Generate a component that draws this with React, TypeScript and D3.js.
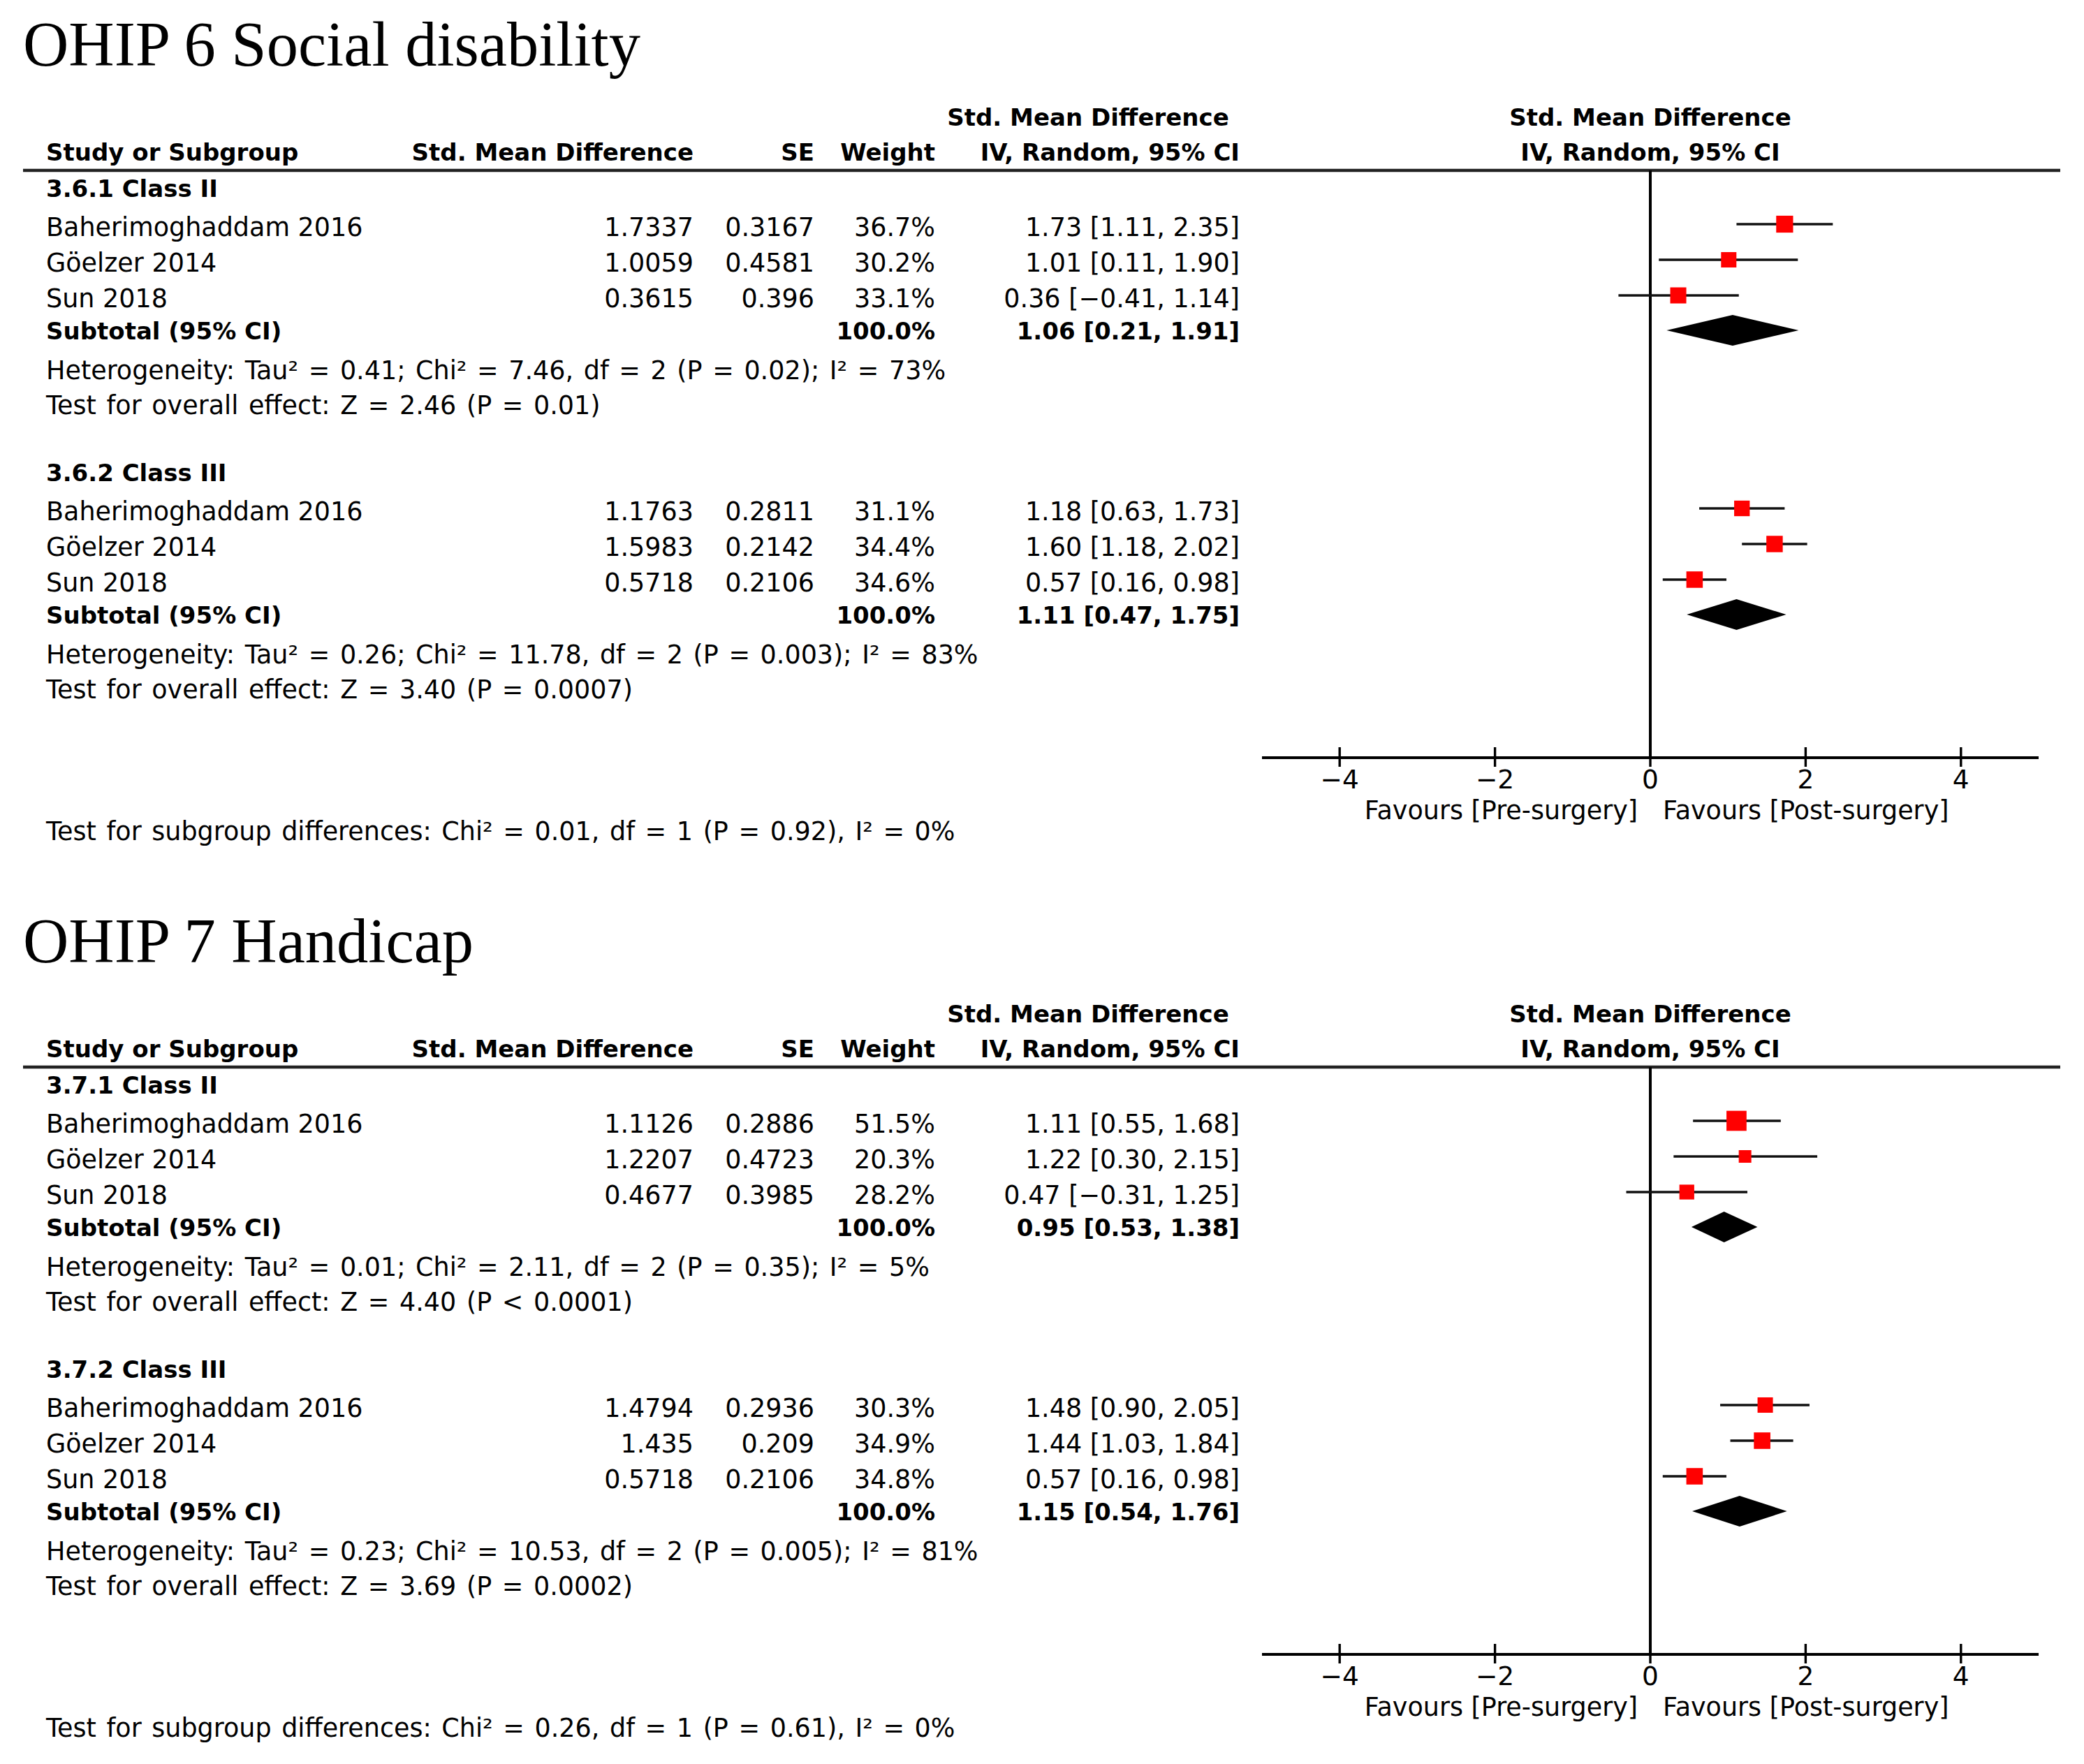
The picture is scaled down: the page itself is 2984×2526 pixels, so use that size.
import React from "react"
import * as d3 from "d3"

const WIDTH = 2984
const HEIGHT = 2526

interface StudyRow {
  smd: number
  se: number
  weight: number
  est: number
  lo: number
  hi: number
}

interface Pooled {
  est: number
  lo: number
  hi: number
}

const studyNames = ["Baherimoghaddam 2016", "Göelzer 2014", "Sun 2018"]
const panelTitles = ["OHIP 6 Social disability", "OHIP 7 Handicap"]
const groupLabels = [
  ["3.6.1 Class II", "3.6.2 Class III"],
  ["3.7.1 Class II", "3.7.2 Class III"],
]

// OHIP 6 Social disability
const ohip6ClassII: StudyRow[] = [
  { smd: 1.7337, se: 0.3167, weight: 36.7, est: 1.73, lo: 1.11, hi: 2.35 },
  { smd: 1.0059, se: 0.4581, weight: 30.2, est: 1.01, lo: 0.11, hi: 1.9 },
  { smd: 0.3615, se: 0.396, weight: 33.1, est: 0.36, lo: -0.41, hi: 1.14 },
]
const ohip6ClassIII: StudyRow[] = [
  { smd: 1.1763, se: 0.2811, weight: 31.1, est: 1.18, lo: 0.63, hi: 1.73 },
  { smd: 1.5983, se: 0.2142, weight: 34.4, est: 1.6, lo: 1.18, hi: 2.02 },
  { smd: 0.5718, se: 0.2106, weight: 34.6, est: 0.57, lo: 0.16, hi: 0.98 },
]
const ohip6Subtotals: Pooled[] = [
  { est: 1.06, lo: 0.21, hi: 1.91 },
  { est: 1.11, lo: 0.47, hi: 1.75 },
]
const ohip6Heterogeneity = [
  "Heterogeneity: Tau² = 0.41; Chi² = 7.46, df = 2 (P = 0.02); I² = 73%",
  "Heterogeneity: Tau² = 0.26; Chi² = 11.78, df = 2 (P = 0.003); I² = 83%",
]
const ohip6Overall = ["Test for overall effect: Z = 2.46 (P = 0.01)", "Test for overall effect: Z = 3.40 (P = 0.0007)"]
const ohip6SubgroupTest = "Test for subgroup differences: Chi² = 0.01, df = 1 (P = 0.92), I² = 0%"

// OHIP 7 Handicap
const ohip7ClassII: StudyRow[] = [
  { smd: 1.1126, se: 0.2886, weight: 51.5, est: 1.11, lo: 0.55, hi: 1.68 },
  { smd: 1.2207, se: 0.4723, weight: 20.3, est: 1.22, lo: 0.3, hi: 2.15 },
  { smd: 0.4677, se: 0.3985, weight: 28.2, est: 0.47, lo: -0.31, hi: 1.25 },
]
const ohip7ClassIII: StudyRow[] = [
  { smd: 1.4794, se: 0.2936, weight: 30.3, est: 1.48, lo: 0.9, hi: 2.05 },
  { smd: 1.435, se: 0.209, weight: 34.9, est: 1.44, lo: 1.03, hi: 1.84 },
  { smd: 0.5718, se: 0.2106, weight: 34.8, est: 0.57, lo: 0.16, hi: 0.98 },
]
const ohip7Subtotals: Pooled[] = [
  { est: 0.95, lo: 0.53, hi: 1.38 },
  { est: 1.15, lo: 0.54, hi: 1.76 },
]
const ohip7Heterogeneity = [
  "Heterogeneity: Tau² = 0.01; Chi² = 2.11, df = 2 (P = 0.35); I² = 5%",
  "Heterogeneity: Tau² = 0.23; Chi² = 10.53, df = 2 (P = 0.005); I² = 81%",
]
const ohip7Overall = ["Test for overall effect: Z = 4.40 (P < 0.0001)", "Test for overall effect: Z = 3.69 (P = 0.0002)"]
const ohip7SubgroupTest = "Test for subgroup differences: Chi² = 0.26, df = 1 (P = 0.61), I² = 0%"

const axisDomain: [number, number] = [-5, 5]
const favoursLeft = "Favours [Pre-surgery]"
const favoursRight = "Favours [Post-surgery]"

const panels = [
  {
    title: panelTitles[0],
    groups: [ohip6ClassII, ohip6ClassIII],
    labels: groupLabels[0],
    subtotals: ohip6Subtotals,
    heterogeneity: ohip6Heterogeneity,
    overall: ohip6Overall,
    subgroupTest: ohip6SubgroupTest,
  },
  {
    title: panelTitles[1],
    groups: [ohip7ClassII, ohip7ClassIII],
    labels: groupLabels[1],
    subtotals: ohip7Subtotals,
    heterogeneity: ohip7Heterogeneity,
    overall: ohip7Overall,
    subgroupTest: ohip7SubgroupTest,
  },
]

const SANS = "'DejaVu Sans', Verdana, sans-serif"
const SERIF = "'Liberation Serif', 'Times New Roman', serif"
const REG = 36.5
const BOLD = 34
const STAT_WORD_SPACING = 3

const PANEL_OFFSET = 1284
const layout = {
  titleY: 94,
  topHeadY: 180,
  headY: 230,
  ruleY: 244,
  groupY: [282, 689],
  axisY: 1085,
  tickLabelY: 1129,
  favoursY: 1173,
  subgroupY: 1203,
}
const cols = {
  textX: 66,
  smdRight: 993,
  seRight: 1166,
  weightRight: 1339,
  ciRight: 1775,
  ciHeadCenter: 1558,
  ruleLeft: 33,
  ruleRight: 2950,
}

const fmt = (v: number) => v.toFixed(2).replace("-", "−")
const ciText = (d: Pooled) => `${fmt(d.est)} [${fmt(d.lo)}, ${fmt(d.hi)}]`

const xScale = d3.scaleLinear().domain(axisDomain).range([1807, 2919])
const sizeScale = d3.scaleSqrt().domain([0, 100]).range([0, 40])

const Panel: React.FC<{ p: (typeof panels)[number]; offset: number }> = ({ p, offset }) => {
  const x0 = xScale(0)
  const ticks = xScale.ticks(5)
  const tickFmt = xScale.tickFormat(5, "d")
  return (
    <g transform={`translate(0,${offset})`} fill="#000">
      <text x={33} y={layout.titleY} fontFamily={SERIF} fontSize={90.5}>
        {p.title}
      </text>

      {/* column headers */}
      <g fontFamily={SANS} fontSize={BOLD} fontWeight="bold">
        <text x={cols.ciHeadCenter} y={layout.topHeadY} textAnchor="middle">
          Std. Mean Difference
        </text>
        <text x={x0} y={layout.topHeadY} textAnchor="middle">
          Std. Mean Difference
        </text>
        <text x={cols.textX} y={layout.headY}>
          Study or Subgroup
        </text>
        <text x={cols.smdRight} y={layout.headY} textAnchor="end">
          Std. Mean Difference
        </text>
        <text x={cols.seRight} y={layout.headY} textAnchor="end">
          SE
        </text>
        <text x={cols.weightRight} y={layout.headY} textAnchor="end">
          Weight
        </text>
        <text x={cols.ciRight} y={layout.headY} textAnchor="end">
          IV, Random, 95% CI
        </text>
        <text x={x0} y={layout.headY} textAnchor="middle">
          IV, Random, 95% CI
        </text>
      </g>
      <line x1={cols.ruleLeft} x2={cols.ruleRight} y1={layout.ruleY} y2={layout.ruleY} stroke="#222" strokeWidth={4.5} />

      {/* line of no effect */}
      <line x1={x0} x2={x0} y1={layout.ruleY} y2={layout.axisY} stroke="#000" strokeWidth={4} />

      {p.groups.map((rows, gi) => {
        const gy = layout.groupY[gi]
        const studyY = (i: number) => gy + 56 + i * 51
        const subY = gy + 204
        const sub = p.subtotals[gi]
        return (
          <g key={gi}>
            <text x={cols.textX} y={gy} fontFamily={SANS} fontSize={BOLD} fontWeight="bold">
              {p.labels[gi]}
            </text>
            {rows.map((r, i) => {
              const y = studyY(i)
              const s = sizeScale(r.weight)
              return (
                <g key={i} fontFamily={SANS} fontSize={REG}>
                  <text x={cols.textX} y={y}>
                    {studyNames[i]}
                  </text>
                  <text x={cols.smdRight} y={y} textAnchor="end">
                    {String(r.smd)}
                  </text>
                  <text x={cols.seRight} y={y} textAnchor="end">
                    {String(r.se)}
                  </text>
                  <text x={cols.weightRight} y={y} textAnchor="end">
                    {r.weight.toFixed(1)}%
                  </text>
                  <text x={cols.ciRight} y={y} textAnchor="end">
                    {ciText(r)}
                  </text>
                  <line
                    x1={xScale(r.lo)}
                    x2={xScale(r.hi)}
                    y1={y - 17}
                    y2={y - 17}
                    stroke="#111"
                    strokeWidth={3.4}
                  />
                  <rect x={xScale(r.est) - s / 2} y={y - 17 - s / 2} width={s} height={s} fill="#ff0000" />
                </g>
              )
            })}
            <g fontFamily={SANS} fontSize={BOLD} fontWeight="bold">
              <text x={cols.textX} y={subY}>
                Subtotal (95% CI)
              </text>
              <text x={cols.weightRight} y={subY} textAnchor="end">
                100.0%
              </text>
              <text x={cols.ciRight} y={subY} textAnchor="end">
                {ciText(sub)}
              </text>
            </g>
            <path
              d={`M${xScale(sub.lo)},${subY - 13} L${xScale(sub.est)},${subY - 35} L${xScale(sub.hi)},${subY - 13} L${xScale(sub.est)},${subY + 9} Z`}
              fill="#000"
            />
            <g fontFamily={SANS} fontSize={REG} wordSpacing={STAT_WORD_SPACING}>
              <text x={cols.textX} y={gy + 261}>
                {p.heterogeneity[gi]}
              </text>
              <text x={cols.textX} y={gy + 311}>
                {p.overall[gi]}
              </text>
            </g>
          </g>
        )
      })}

      {/* axis */}
      <g>
        <line
          x1={xScale(axisDomain[0])}
          x2={xScale(axisDomain[1])}
          y1={layout.axisY}
          y2={layout.axisY}
          stroke="#000"
          strokeWidth={4}
        />
        {ticks.map((t) => (
          <g key={t}>
            <line x1={xScale(t)} x2={xScale(t)} y1={layout.axisY - 15} y2={layout.axisY + 13} stroke="#000" strokeWidth={3.4} />
            <text x={xScale(t)} y={layout.tickLabelY} textAnchor="middle" fontFamily={SANS} fontSize={REG + 1}>
              {tickFmt(t)}
            </text>
          </g>
        ))}
        <text x={x0 - 18} y={layout.favoursY} textAnchor="end" fontFamily={SANS} fontSize={REG}>
          {favoursLeft}
        </text>
        <text x={x0 + 18} y={layout.favoursY} fontFamily={SANS} fontSize={REG}>
          {favoursRight}
        </text>
      </g>

      <text x={cols.textX} y={layout.subgroupY} fontFamily={SANS} fontSize={REG} wordSpacing={STAT_WORD_SPACING}>
        {p.subgroupTest}
      </text>
    </g>
  )
}

export default function App() {
  return (
    <svg
      width={WIDTH}
      height={HEIGHT}
      viewBox={`0 0 ${WIDTH} ${HEIGHT}`}
      style={{ position: "absolute", left: 0, top: 0, background: "#fff" }}
    >
      <rect width={WIDTH} height={HEIGHT} fill="#fff" />
      {panels.map((p, i) => (
        <Panel key={i} p={p} offset={i * PANEL_OFFSET} />
      ))}
    </svg>
  )
}
